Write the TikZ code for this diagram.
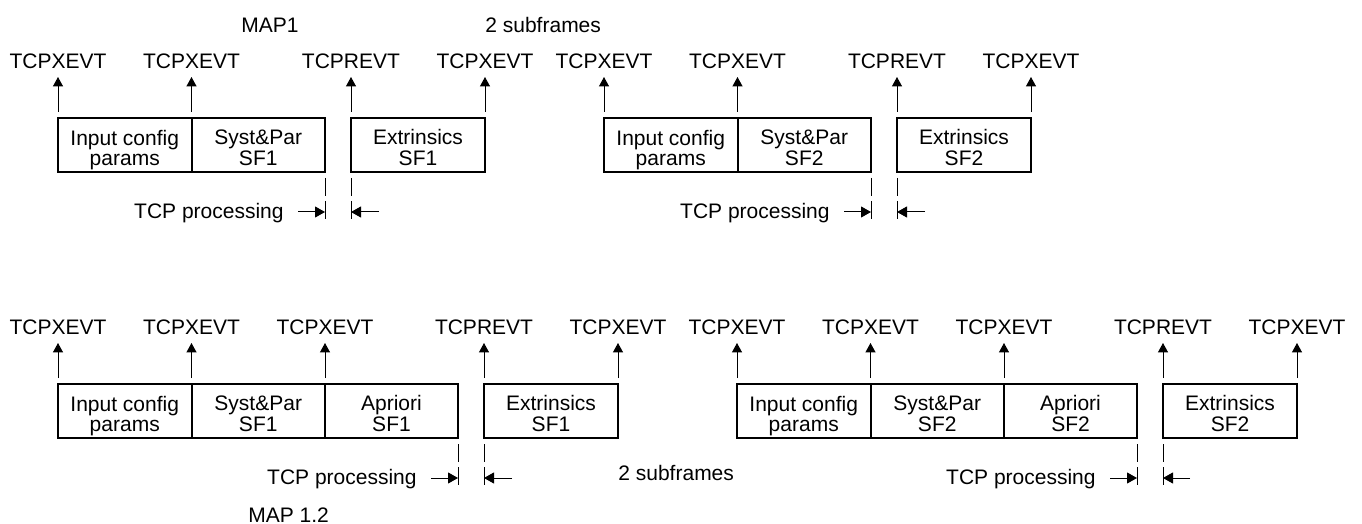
\documentclass[tikz,border=0pt]{standalone}
\usepackage{fontspec}
\setmainfont{Liberation Sans}
\usetikzlibrary{arrows.meta}
\newcommand\twolines[2]{\raisebox{-5.5pt}[0pt][0pt]{\begin{tabular}{@{}c@{}}#1\\#2\end{tabular}}}
\begin{document}
\begin{tikzpicture}[x=0.5pt,y=-0.5pt,
  every node/.style={font=\fontsize{10.5}{10}\selectfont, text=black},
  box/.style={draw, line width=1pt, anchor=north west, minimum width=#1,
    minimum height=27pt, inner sep=0pt, outer sep=0pt},
  box/.default=66.75pt,
  evt/.style={anchor=base, inner sep=0pt, outer sep=0pt},
  uparr/.style={-{Triangle[length=4.7pt,width=5pt]}, line width=0.5pt},
  harr/.style={-{Triangle[length=5pt,width=5.5pt]}, line width=0.5pt},
  dsh/.style={line width=0.5pt, dash pattern=on 9pt off 2.5pt},
  txt/.style={inner sep=0pt}
  ]
\useasboundingbox (0,0) rectangle (1362,524);

% ---------- top row, group A ----------
\node[box] (a1) at (58,118) {\twolines{Input config}{params}};
\node[box] (a2) at (191.5,118) {\twolines{Syst\&Par}{SF1}};
\node[box=67pt] (a3) at (351,118) {\twolines{Extrinsics}{SF1}};
\node[evt] (la1) at (58,68.5) {TCPXEVT};
\node[evt] (la2) at (191.5,68.5) {TCPXEVT};
\node[evt] (la3) at (351,68.5) {TCPREVT};
\node[evt] (la4) at (485,68.5) {TCPXEVT};
\draw[uparr] ([yshift=3pt]a1.north west) -- ([yshift=-4.25pt]la1.base);
\draw[uparr] ([yshift=3pt]a2.north west) -- ([yshift=-4.25pt]la2.base);
\draw[uparr] ([yshift=3pt]a3.north west) -- ([yshift=-4.25pt]la3.base);
\draw[uparr] ([yshift=3pt]a3.north east) -- ([yshift=-4.25pt]la4.base);
\draw[dsh] ([yshift=-3pt]a2.south east) -- ++(0,42);
\draw[dsh] ([yshift=-3pt]a3.south west) -- ++(0,42);
\coordinate (pa) at (298,212);
\coordinate (qa) at (379,212);
\draw[harr] (pa) -- (pa -| a2.east);
\draw[harr] (qa) -- (qa -| a3.west);
\node[txt, anchor=base east] (ta) at (284,218.5) {TCP processing};
\node[txt] (m1) at (270,25) {MAP1};
\node[txt, anchor=base west] (s1) at (485,32.5) {2 subframes};

% ---------- top row, group B ----------
\node[box] (b1) at (604,118) {\twolines{Input config}{params}};
\node[box] (b2) at (737.5,118) {\twolines{Syst\&Par}{SF2}};
\node[box=67pt] (b3) at (897,118) {\twolines{Extrinsics}{SF2}};
\node[evt] (lb1) at (604,68.5) {TCPXEVT};
\node[evt] (lb2) at (737.5,68.5) {TCPXEVT};
\node[evt] (lb3) at (897,68.5) {TCPREVT};
\node[evt] (lb4) at (1031,68.5) {TCPXEVT};
\draw[uparr] ([yshift=3pt]b1.north west) -- ([yshift=-4.25pt]lb1.base);
\draw[uparr] ([yshift=3pt]b2.north west) -- ([yshift=-4.25pt]lb2.base);
\draw[uparr] ([yshift=3pt]b3.north west) -- ([yshift=-4.25pt]lb3.base);
\draw[uparr] ([yshift=3pt]b3.north east) -- ([yshift=-4.25pt]lb4.base);
\draw[dsh] ([yshift=-3pt]b2.south east) -- ++(0,42);
\draw[dsh] ([yshift=-3pt]b3.south west) -- ++(0,42);
\coordinate (pb) at (844,212);
\coordinate (qb) at (925,212);
\draw[harr] (pb) -- (pb -| b2.east);
\draw[harr] (qb) -- (qb -| b3.west);
\node[txt, anchor=base east] (tb) at (830,218.5) {TCP processing};

% ---------- bottom row, group C ----------
\node[box] (c1) at (58,384) {\twolines{Input config}{params}};
\node[box] (c2) at (191.5,384) {\twolines{Syst\&Par}{SF1}};
\node[box=66.5pt] (c3) at (325,384) {\twolines{Apriori}{SF1}};
\node[box=67pt] (c4) at (484,384) {\twolines{Extrinsics}{SF1}};
\node[evt] (lc1) at (58,334.5) {TCPXEVT};
\node[evt] (lc2) at (191.5,334.5) {TCPXEVT};
\node[evt] (lc3) at (325,334.5) {TCPXEVT};
\node[evt] (lc4) at (484,334.5) {TCPREVT};
\node[evt] (lc5) at (618,334.5) {TCPXEVT};
\draw[uparr] ([yshift=3pt]c1.north west) -- ([yshift=-4.25pt]lc1.base);
\draw[uparr] ([yshift=3pt]c2.north west) -- ([yshift=-4.25pt]lc2.base);
\draw[uparr] ([yshift=3pt]c3.north west) -- ([yshift=-4.25pt]lc3.base);
\draw[uparr] ([yshift=3pt]c4.north west) -- ([yshift=-4.25pt]lc4.base);
\draw[uparr] ([yshift=3pt]c4.north east) -- ([yshift=-4.25pt]lc5.base);
\draw[dsh] ([yshift=-3pt]c3.south east) -- ++(0,42);
\draw[dsh] ([yshift=-3pt]c4.south west) -- ++(0,42);
\coordinate (pc) at (431,478);
\coordinate (qc) at (512,478);
\draw[harr] (pc) -- (pc -| c3.east);
\draw[harr] (qc) -- (qc -| c4.west);
\node[txt, anchor=base east] (tc) at (417,484.5) {TCP processing};
\node[txt, anchor=base west] (s2) at (618,480.5) {2 subframes};
\node[txt, anchor=base west] (m2) at (248,522.5) {MAP 1.2};

% ---------- bottom row, group D ----------
\node[box] (d1) at (737,384) {\twolines{Input config}{params}};
\node[box] (d2) at (870.5,384) {\twolines{Syst\&Par}{SF2}};
\node[box=66.5pt] (d3) at (1004,384) {\twolines{Apriori}{SF2}};
\node[box=67pt] (d4) at (1163,384) {\twolines{Extrinsics}{SF2}};
\node[evt] (ld1) at (737,334.5) {TCPXEVT};
\node[evt] (ld2) at (870.5,334.5) {TCPXEVT};
\node[evt] (ld3) at (1004,334.5) {TCPXEVT};
\node[evt] (ld4) at (1163,334.5) {TCPREVT};
\node[evt] (ld5) at (1297,334.5) {TCPXEVT};
\draw[uparr] ([yshift=3pt]d1.north west) -- ([yshift=-4.25pt]ld1.base);
\draw[uparr] ([yshift=3pt]d2.north west) -- ([yshift=-4.25pt]ld2.base);
\draw[uparr] ([yshift=3pt]d3.north west) -- ([yshift=-4.25pt]ld3.base);
\draw[uparr] ([yshift=3pt]d4.north west) -- ([yshift=-4.25pt]ld4.base);
\draw[uparr] ([yshift=3pt]d4.north east) -- ([yshift=-4.25pt]ld5.base);
\draw[dsh] ([yshift=-3pt]d3.south east) -- ++(0,42);
\draw[dsh] ([yshift=-3pt]d4.south west) -- ++(0,42);
\coordinate (pd) at (1110,478);
\coordinate (qd) at (1190,478);
\draw[harr] (pd) -- (pd -| d3.east);
\draw[harr] (qd) -- (qd -| d4.west);
\node[txt, anchor=base east] (td) at (1096,484.5) {TCP processing};
\end{tikzpicture}
\end{document}
